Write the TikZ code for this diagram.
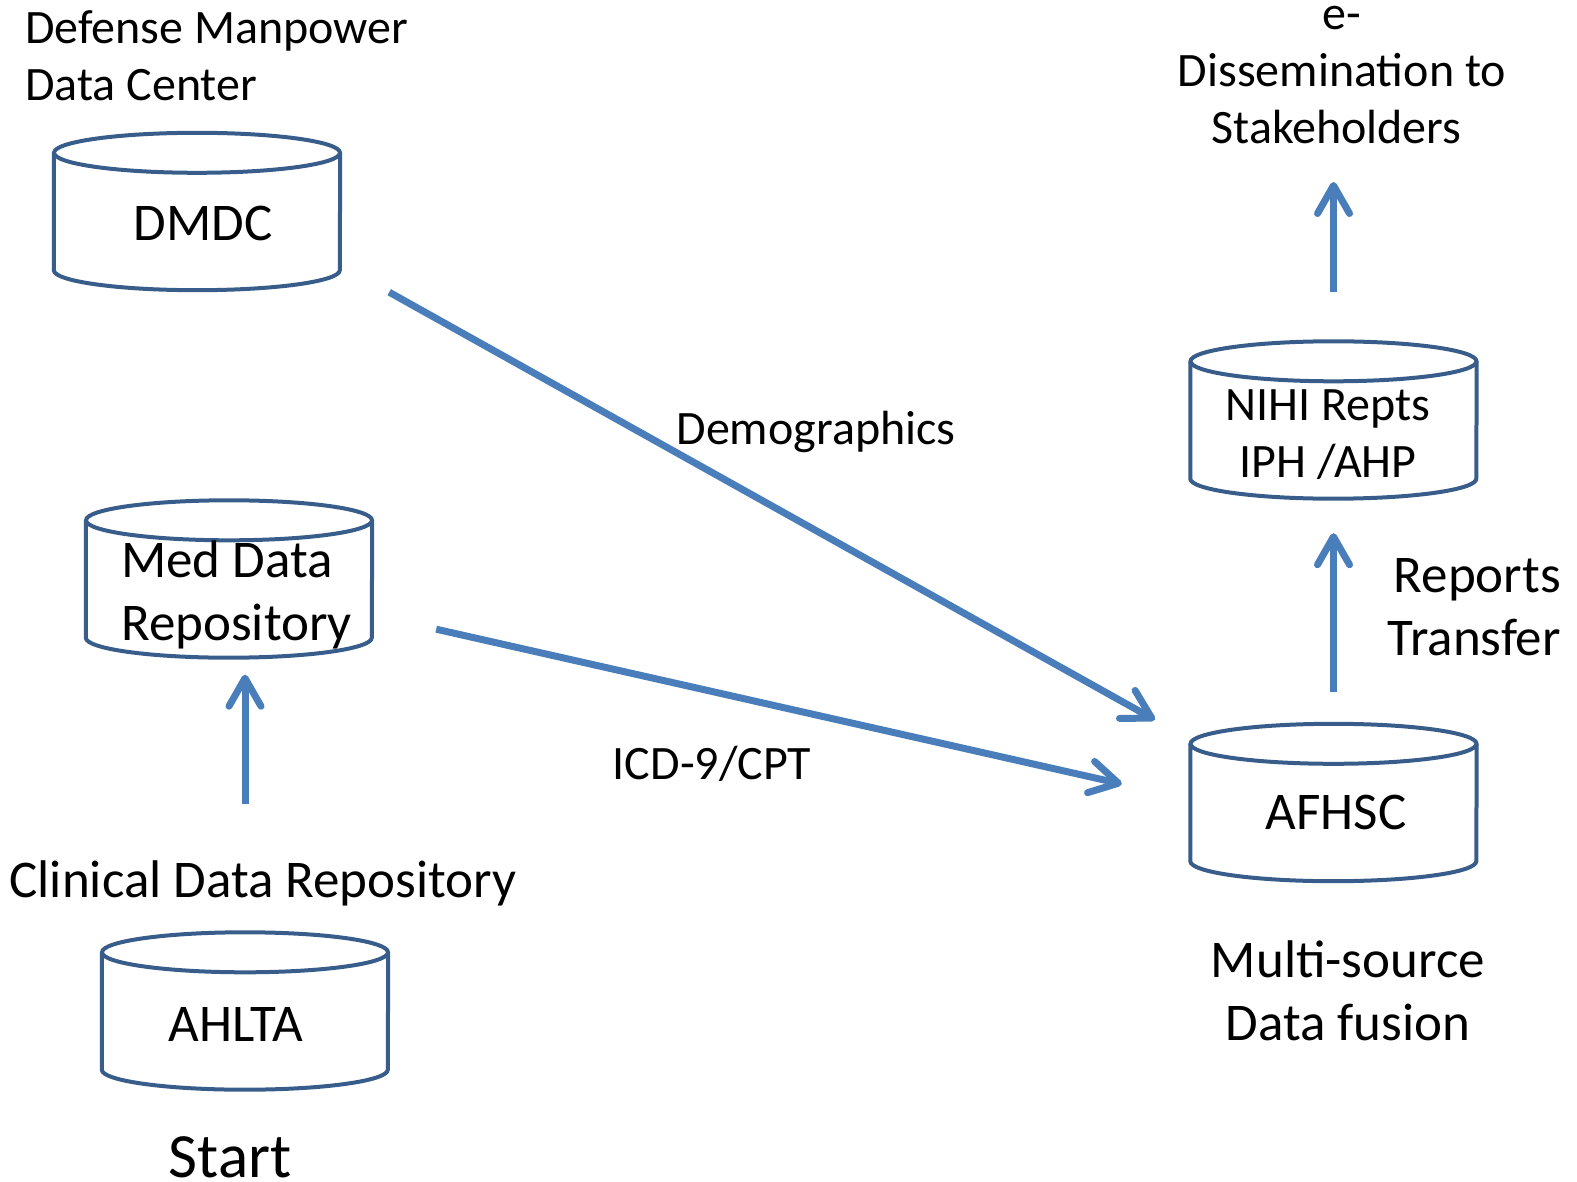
\documentclass[tikz,border=0pt]{standalone}
\usepackage{fontspec}
\setmainfont{Carlito}
\usetikzlibrary{arrows.meta}
\definecolor{cylblue}{RGB}{56,93,138}
\definecolor{arrblue}{RGB}{74,126,187}
\newcommand\drawcyl[1]{%
  \draw[cylline] ([yshift=-20pt]#1.north west) -- ([yshift=20pt]#1.south west)
     arc[start angle=180, end angle=360, x radius=143pt, y radius=20pt]
     -- ([yshift=-20pt]#1.north east);
  \draw[cylline] ([yshift=-20pt]#1.north) ellipse [x radius=143pt, y radius=20pt];
}
\begin{document}
\begin{tikzpicture}[x=1pt,y=-1pt,
  cylnode/.style={minimum width=286pt, minimum height=157pt, inner sep=0pt, draw=none},
  cylline/.style={draw=cylblue, line width=4pt},
  arr/.style={draw=arrblue, line width=7pt, -{Straight Barb[length=28pt,width=32pt,round]}},
  txtA/.style={font=\fontsize{48}{57}\selectfont, inner sep=0pt},
  txtB/.style={font=\fontsize{53}{63.5}\selectfont, inner sep=0pt},
]
\useasboundingbox (0,0) rectangle (1577,1182);
% cylinders
\node[cylnode] (dmdc) at (197,211.5) {};
\node[cylnode] (med) at (229,579) {};
\node[cylnode] (ahlta) at (245,1011) {};
\node[cylnode] (afhsc) at (1333.5,802.5) {};
\node[cylnode] (nihi) at (1333.5,420) {};
\drawcyl{dmdc}
\drawcyl{med}
\drawcyl{ahlta}
\drawcyl{afhsc}
\drawcyl{nihi}
% texts
\node[txtB] (dmdct) at (203,223) {DMDC};
\node[txtA, align=left, anchor=west] (dmdclab) at (25,56) {Defense Manpower\\Data Center};
\node[txtB, align=left, anchor=west] (medt) at (121,595) {Med Data\\Repository};
\node[txtB] (cdr) at (263,883) {Clinical Data Repository};
\node[txtB] (ahltat) at (236,1024) {AHLTA};
\node[font=\fontsize{63}{75}\selectfont, inner sep=0pt] (start) at (230,1157) {Start};
\node[txtB] (afhsct) at (1336,812) {AFHSC};
\node[txtB, align=center] (fusion) at (1348,991) {Multi-source\\Data fusion};
\node[txtA, align=center] (nihit) at (1328,435) {NIHI Repts\\IPH /AHP};
\node[txtB, align=right, anchor=east] (rt) at (1561,607) {Reports\\Transfer};
\node[txtA, align=center] (dissem) at (1342,75) {e-\\Dissemination to\\Stakeholders\hspace*{0.23em}};
\node[txtA] (demo) at (816,432) {Demographics};
\node[txtA] (icd) at (712,764) {ICD-9/CPT};
% connectors
\draw[arr, shorten <=128pt, shorten >=17pt] (ahlta.north) -- (ahlta.north |- med.south);
\draw[arr, shorten <=32pt, shorten >=34.5pt] (afhsc.north) -- (nihi.south);
\draw[arr, shorten <=49.5pt, shorten >=38pt] (nihi.north) -- (nihi.north |- dissem.south);
\draw[arr] ([xshift=49pt,yshift=-2pt]dmdc.south east) -- ([xshift=-35.5pt,yshift=4pt]afhsc.north west);
\draw[arr] ([xshift=64pt,yshift=28.5pt]med.south east) -- ([xshift=-68.5pt,yshift=18.5pt]afhsc.west);
\end{tikzpicture}
\end{document}
